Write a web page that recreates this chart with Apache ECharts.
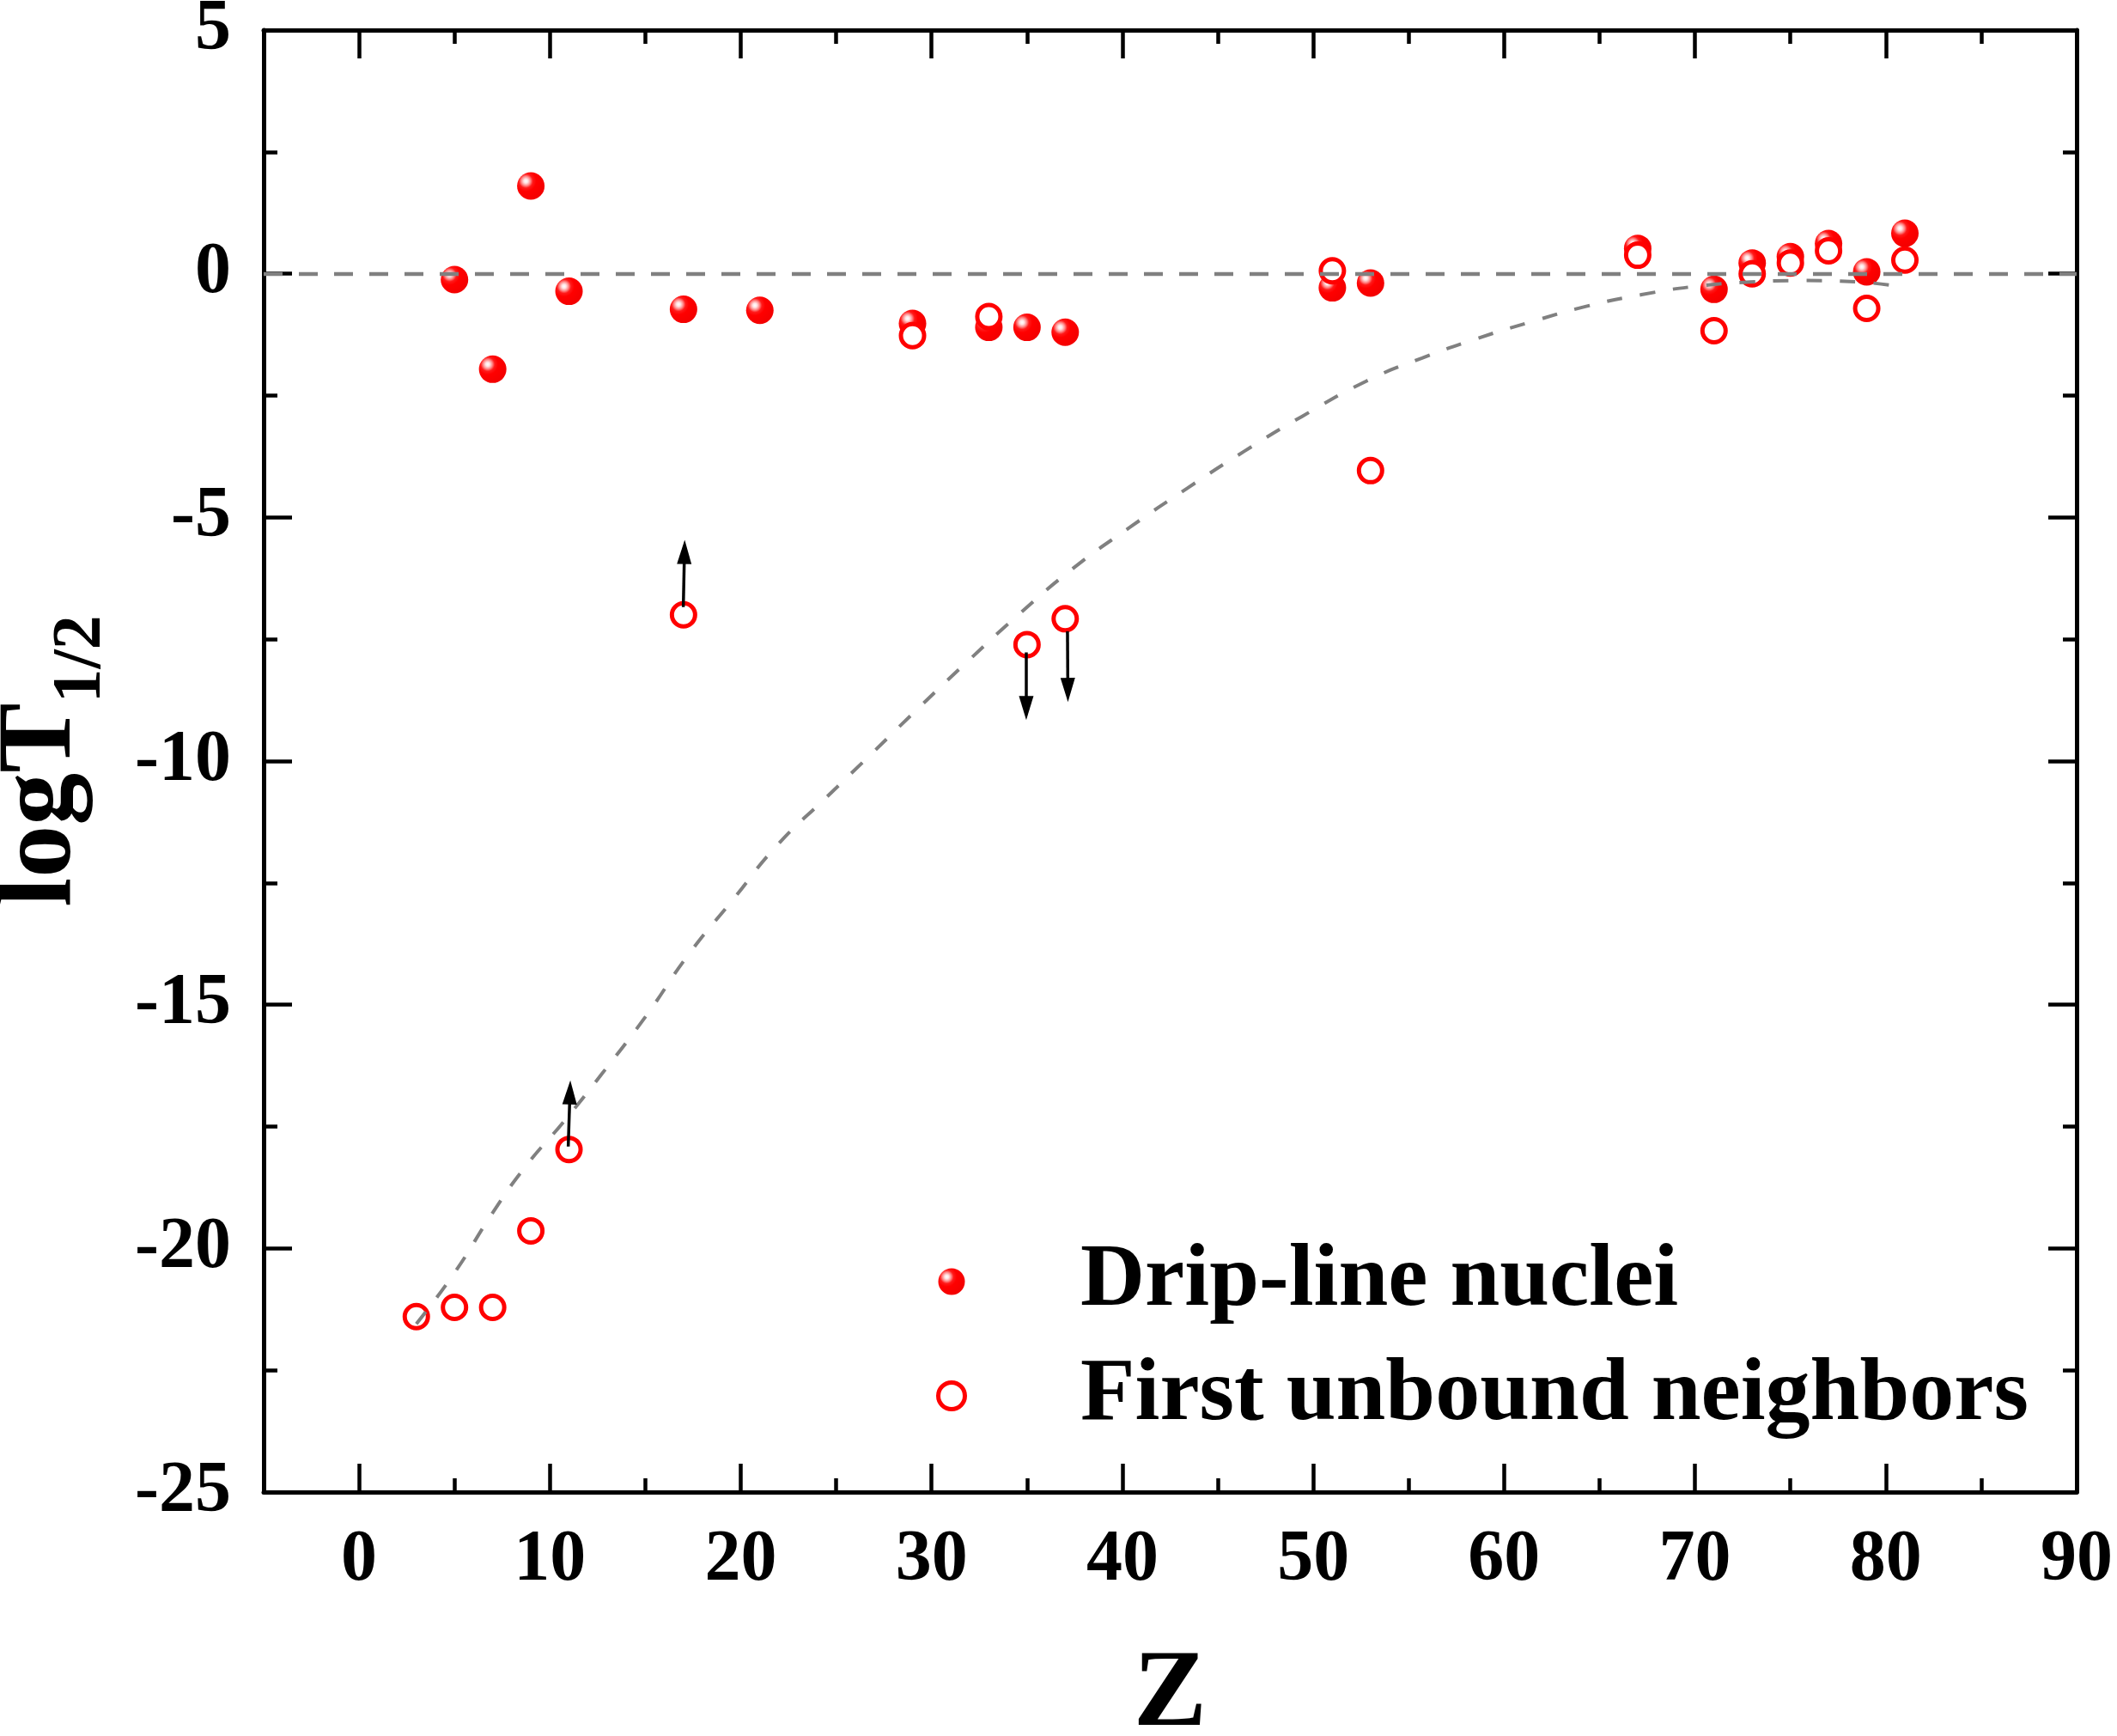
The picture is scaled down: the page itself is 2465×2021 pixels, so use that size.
<!DOCTYPE html>
<html>
<head>
<meta charset="utf-8">
<title>logT1/2 vs Z</title>
<script src="https://cdn.jsdelivr.net/npm/echarts@6/dist/echarts.min.js"></script>
<style>
  html, body { margin: 0; padding: 0; background: #fff; }
  #chart { width: 2465px; height: 2021px; }
</style>
</head>
<body>
<div id="chart"></div>
<script>
// drip-line nuclei (filled balls)
const dripZ = [5, 7, 9, 11, 17, 21, 29, 33, 35, 37, 51, 53, 67, 71, 73, 75, 77, 79, 81];
const dripLogT = [-0.12, -1.96, 1.8, -0.36, -0.73, -0.75, -1.02, -1.1, -1.1, -1.2,
                  -0.29, -0.19, 0.52, -0.32, 0.22, 0.35, 0.62, 0.04, 0.83];

// first unbound neighbors (open circles)
const unboundZ = [3, 5, 7, 9, 11, 17, 29, 33, 35, 37, 51, 53, 67, 71, 73, 75, 77, 79, 81];
const unboundLogT = [-21.4, -21.21, -21.21, -19.64, -17.97, -7.0, -1.27, -0.88, -7.61, -7.08,
                     0.06, -4.04, 0.38, -1.17, 0.0, 0.22, 0.47, -0.71, 0.28];

// limit arrows: start point and arrow head point
const arrowFromZ = [10.96, 16.99, 34.96, 37.12];
const arrowFromV = [-17.91, -6.84, -7.77, -7.34];
const arrowToZ = [11.05, 17.05, 34.96, 37.14];
const arrowToV = [-16.8, -5.71, -8.91, -8.54];

// grey dashed trend curve
const curveZ = [3.0, 5.0, 7.0, 8.7, 10.7, 12.7, 15.0, 17.3, 19.6, 21.9, 24.5, 26.8, 29.4, 31.9,
                34.4, 37.4, 40.4, 43.4, 46.4, 49.4, 52.8, 55.7, 58.5, 61.4, 64.3, 67.2, 70.0,
                72.9, 75.8, 78.6, 81.0];
const curveV = [-21.55, -20.5, -19.27, -18.33, -17.41, -16.43, -15.25, -13.95, -12.84, -11.73,
                -10.74, -9.87, -8.88, -7.95, -7.05, -6.05, -5.2, -4.4, -3.64, -2.93, -2.2,
                -1.73, -1.34, -0.99, -0.67, -0.43, -0.26, -0.17, -0.14, -0.17, -0.28];

const xMajorTicks = [0, 10, 20, 30, 40, 50, 60, 70, 80, 90];
const xMinorTicks = [5, 15, 25, 35, 45, 55, 65, 75, 85];

const FONT = '"Times New Roman", "Liberation Serif", serif';
const AXIS_W = 5;
const TICK_W = 4.5;

const chart = echarts.init(document.getElementById('chart'));

const ball = new echarts.graphic.RadialGradient(0.32, 0.32, 0.75, [
  { offset: 0, color: '#ffffff' },
  { offset: 0.1, color: '#ffe4e4' },
  { offset: 0.22, color: '#ff8c8c' },
  { offset: 0.34, color: '#ff1a1a' },
  { offset: 0.5, color: '#ff0000' },
  { offset: 1, color: '#f20000' }
]);

function xAxisOf(position, ticks, len, showLine, showLabel) {
  return {
    type: 'value', position: position, min: -5, max: 90,
    axisLine: { show: showLine, onZero: false, lineStyle: { color: '#000', width: AXIS_W } },
    axisTick: { show: true, inside: true, length: len, customValues: ticks,
                lineStyle: { color: '#000', width: TICK_W } },
    axisLabel: { show: showLabel, customValues: ticks, margin: 38, color: '#000',
                 fontFamily: FONT, fontWeight: 'bold', fontSize: 84 },
    splitLine: { show: false }
  };
}

function yAxisOf(position, showLabel) {
  return {
    type: 'value', position: position, min: -25, max: 5, interval: 5,
    axisLine: { show: true, onZero: false, lineStyle: { color: '#000', width: AXIS_W } },
    axisTick: { show: true, inside: true, length: 33, lineStyle: { color: '#000', width: TICK_W } },
    minorTick: { show: true, splitNumber: 2, length: 16, lineStyle: { color: '#000', width: TICK_W } },
    axisLabel: { show: showLabel, margin: 38, color: '#000',
                 fontFamily: FONT, fontWeight: 'bold', fontSize: 84 },
    splitLine: { show: false },
    minorSplitLine: { show: false }
  };
}

const bottomAxis = xAxisOf('bottom', xMajorTicks, 33, true, true);
bottomAxis.name = 'Z';
bottomAxis.nameLocation = 'middle';
bottomAxis.nameGap = 174;
bottomAxis.nameTextStyle = { fontFamily: FONT, fontWeight: 'bold', fontSize: 128, color: '#000' };

const leftAxis = yAxisOf('left', true);
leftAxis.name = '{a|logT}{b|1/2}';
leftAxis.nameLocation = 'middle';
leftAxis.nameGap = 172;
leftAxis.nameTextStyle = {
  rich: {
    a: { fontFamily: FONT, fontWeight: 'bold', fontSize: 122, lineHeight: 172, color: '#000' },
    b: { fontFamily: FONT, fontWeight: 'bold', fontSize: 80, lineHeight: 80,
         verticalAlign: 'bottom', color: '#000' }
  }
};

const option = {
  backgroundColor: '#fff',
  animation: false,
  grid: { left: 307, right: 47, top: 35, bottom: 284, containLabel: false, outerBoundsMode: 'none' },
  legend: {
    orient: 'vertical',
    left: 1085,
    top: 1435,
    itemWidth: 290,
    itemHeight: 31,
    itemGap: 29,
    textStyle: { fontFamily: FONT, fontWeight: 'bold', fontSize: 104, color: '#000' },
    data: [
      { name: 'Drip-line nuclei', itemStyle: { borderWidth: 0 } },
      { name: 'First unbound neighbors', itemStyle: { borderWidth: 5 } }
    ]
  },
  xAxis: [
    bottomAxis,
    xAxisOf('bottom', xMinorTicks, 16, false, false),
    xAxisOf('top', xMajorTicks, 33, true, false),
    xAxisOf('top', xMinorTicks, 16, false, false)
  ],
  yAxis: [
    leftAxis,
    yAxisOf('right', false)
  ],
  series: [
    {
      name: 'Drip-line nuclei',
      type: 'scatter',
      z: 2,
      symbol: 'circle',
      symbolSize: 32,
      itemStyle: { color: ball, opacity: 1 },
      data: dripZ.map((z, i) => [z, dripLogT[i]]),
      markLine: {
        silent: true,
        symbol: 'none',
        label: { show: false },
        lineStyle: { color: '#808080', width: 4.3, type: [22, 19] },
        data: [{ yAxis: 0 }]
      }
    },
    {
      name: 'First unbound neighbors',
      type: 'scatter',
      z: 3,
      symbol: 'circle',
      symbolSize: 27,
      itemStyle: { color: '#fff', borderColor: '#ff0000', borderWidth: 5, opacity: 1 },
      data: unboundZ.map((z, i) => [z, unboundLogT[i]])
    },
    {
      name: 'trend',
      type: 'line',
      z: 4,
      smooth: true,
      symbol: 'none',
      silent: true,
      lineStyle: { color: '#808080', width: 4, type: [18, 21] },
      data: curveZ.map((z, i) => [z, curveV[i]])
    },
    {
      name: 'limits',
      type: 'lines',
      coordinateSystem: 'cartesian2d',
      z: 5,
      silent: true,
      symbol: ['none', 'triangle'],
      symbolSize: [0, [17, 28]],
      lineStyle: { color: '#000', width: 3.5, opacity: 1 },
      itemStyle: { color: '#000' },
      data: arrowFromZ.map((z, i) => ({
        coords: [[z, arrowFromV[i]], [arrowToZ[i], arrowToV[i]]]
      }))
    }
  ]
};

chart.setOption(option);
</script>
</body>
</html>
